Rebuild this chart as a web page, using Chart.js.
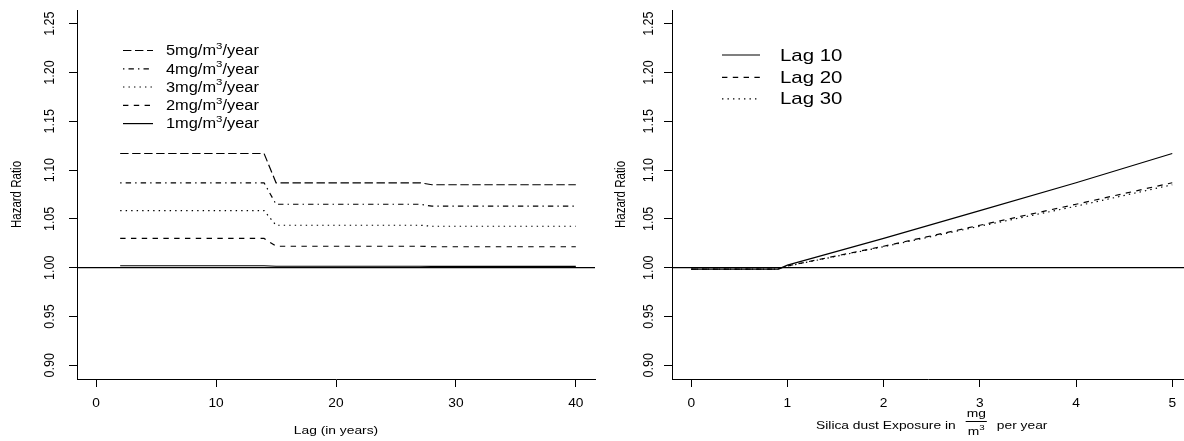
<!DOCTYPE html>
<html><head><meta charset="utf-8">
<script src="https://cdn.jsdelivr.net/npm/chart.js@4.4.1/dist/chart.umd.min.js"></script>
<style>
html,body{margin:0;padding:0;background:#fff;}
#wrap{position:relative;width:1184px;height:441px;overflow:hidden;background:#fff;}
canvas{position:absolute;top:0;}
</style></head><body>
<div id="wrap">
<canvas id="leftChart" width="600" height="441" style="left:0px"></canvas>
<canvas id="rightChart" width="584" height="441" style="left:600px"></canvas>
</div>
<script>
// ---------- data ----------
const lagYears = [2, 14, 15, 27, 28, 40];
const hr5mg = [1.117, 1.117, 1.087, 1.087, 1.085, 1.085];
const hr4mg = [1.087, 1.087, 1.065, 1.065, 1.063, 1.063];
const hr3mg = [1.0585, 1.0585, 1.0435, 1.0435, 1.0425, 1.0425];
const hr2mg = [1.030, 1.030, 1.022, 1.022, 1.0215, 1.0215];
const hr1mg = [1.002, 1.002, 1.0015, 1.0015, 1.0013, 1.0013];
const leftLabels = ['5mg/m³/year', '4mg/m³/year', '3mg/m³/year', '2mg/m³/year', '1mg/m³/year'];

const doseLevels = [0, 0.9, 1, 2, 3, 4, 5];
const hrLag10 = [0.9985, 0.9985, 1.0027, 1.030, 1.0585, 1.087, 1.117];
const hrLag20 = [0.9985, 0.9985, 1.0018, 1.022, 1.0435, 1.065, 1.087];
const hrLag30 = [0.9985, 0.9985, 1.0016, 1.0215, 1.0425, 1.063, 1.085];
const rightLabels = ['Lag 10', 'Lag 20', 'Lag 30'];

const lagTicks = [0, 10, 20, 30, 40];
const doseTicks = [0, 1, 2, 3, 4, 5];
const hrTicks = [0.90, 0.95, 1.00, 1.05, 1.10, 1.15, 1.20, 1.25];
const refHR = 1;

const yTitle = 'Hazard Ratio';
const leftXTitle = 'Lag (in years)';
const rightXTitleParts = ['Silica dust Exposure in', 'mg', 'm³', 'per year'];

// ---------- styles ----------
const FONT = '"Liberation Sans", Arial, Helvetica, sans-serif';
const DASH = {
  solid: [],
  dashed: [5.4, 5.4],
  dotted: [1.4, 4.1],
  dotdash: [1.4, 4.1, 5.4, 4.1],
  longdash: [8.4, 3.6]
};
const leftStyles = [DASH.longdash, DASH.dotdash, DASH.dotted, DASH.dashed, DASH.solid];
const rightStyles = [DASH.solid, DASH.dashed, DASH.dotted];
const LW = 1.2;

const Y_MIN = 0.886, Y_MAX = 1.264;
const LX_MIN = -1.6, LX_MAX = 41.6;
const RX_MIN = -0.2, RX_MAX = 5.122;

function pts(xs, ys) { return xs.map((x, i) => ({x: x, y: ys[i]})); }

function lineDs(data, dash) {
  return {data: data, borderColor: '#000', borderWidth: LW, borderDash: dash,
    pointRadius: 0, fill: false, tension: 0};
}

function axis(min, max, ticks, fit) {
  return {
    type: 'linear', min: min, max: max,
    afterBuildTicks: s => { s.ticks = ticks.map(v => ({value: v})); },
    afterFit: fit,
    ticks: {display: false},
    grid: {display: true, drawOnChartArea: false, drawTicks: true, tickLength: 8, color: '#000', lineWidth: 1},
    border: {display: true, color: '#000', width: 1}
  };
}

function txt(ctx, s, x, y, px, align, sx, rot) {
  ctx.save();
  ctx.translate(x, y);
  if (rot) { ctx.rotate(-Math.PI / 2); ctx.scale(1, sx); }
  else ctx.scale(sx, 1);
  ctx.font = px + 'px ' + FONT;
  ctx.fillStyle = '#000';
  ctx.textAlign = align;
  ctx.textBaseline = 'middle';
  ctx.fillText(s, 0, 0);
  ctx.restore();
}
function width(ctx, s, px, sx) {
  ctx.save(); ctx.font = px + 'px ' + FONT; const w = ctx.measureText(s).width * sx; ctx.restore(); return w;
}
function supText(ctx, s, x, y, px, sx) {
  const parts = s.split('³');
  let cx = x;
  for (let i = 0; i < parts.length; i++) {
    txt(ctx, parts[i], cx, y, px, 'left', sx, false);
    cx += width(ctx, parts[i], px, sx);
    if (i < parts.length - 1) {
      txt(ctx, '3', cx, y - px * 0.38, px * 0.7, 'left', sx, false);
      cx += width(ctx, '3', px * 0.7, sx);
    }
  }
  return cx - x;
}
function supWidth(ctx, s, px, sx) {
  const parts = s.split('³'); let w = 0;
  parts.forEach((p, i) => { w += width(ctx, p, px, sx); if (i < parts.length - 1) w += width(ctx, '3', px * 0.7, sx); });
  return w;
}
function sampleLine(ctx, x1, x2, y, dash) {
  ctx.save();
  ctx.strokeStyle = '#000'; ctx.lineWidth = LW; ctx.setLineDash(dash);
  ctx.beginPath(); ctx.moveTo(x1, y); ctx.lineTo(x2, y); ctx.stroke();
  ctx.restore();
}

const TICK_PX = 12.5, TICK_SX = 1.1, TITLE_PX = 11.5, TITLE_SX = 1.2;

function drawAxesText(chart, yLabelX, yTitleX) {
  const ctx = chart.ctx, xs = chart.scales.x, ys = chart.scales.y, a = chart.chartArea;
  ys.ticks.forEach(t => txt(ctx, t.value.toFixed(2), yLabelX, ys.getPixelForValue(t.value), TICK_PX, 'center', TICK_SX, true));
  xs.ticks.forEach(t => txt(ctx, String(t.value), xs.getPixelForValue(t.value), 404, TICK_PX, 'center', TICK_SX, false));
  txt(ctx, yTitle, yTitleX, (a.top + a.bottom) / 2, TITLE_PX, 'center', TITLE_SX, true);
}

const leftText = {
  id: 'leftText',
  afterDraw(chart) {
    const ctx = chart.ctx, a = chart.chartArea;
    drawAxesText(chart, 50, 17);
    txt(ctx, leftXTitle, (a.left + a.right) / 2, 431, TITLE_PX, 'center', TITLE_SX, false);
    const rows = [50.5, 68.8, 87, 105.3, 123.6];
    leftLabels.forEach((lab, i) => {
      sampleLine(ctx, 123, 153, rows[i], leftStyles[i]);
      supText(ctx, lab, 166, rows[i] + 1, 14, 1.17);
    });
  }
};

const rightText = {
  id: 'rightText',
  afterDraw(chart) {
    const ctx = chart.ctx, xs = chart.scales.x;
    drawAxesText(chart, 49, 21);
    const [main, num, den, tail] = rightXTitleParts;
    const wMain = width(ctx, main, TITLE_PX, TITLE_SX);
    const wTail = width(ctx, tail, TITLE_PX, TITLE_SX);
    const wFrac = Math.max(width(ctx, num, TITLE_PX, TITLE_SX), supWidth(ctx, den, TITLE_PX, TITLE_SX)) + 2;
    const gap = 10;
    const total = wMain + gap + wFrac + gap + wTail;
    const cx = xs.getPixelForValue((RX_MIN + 5.2) / 2);
    let x = cx - total / 2;
    txt(ctx, main, x, 425.5, TITLE_PX, 'left', TITLE_SX, false);
    x += wMain + gap;
    txt(ctx, num, x + wFrac / 2, 413.5, TITLE_PX, 'center', TITLE_SX, false);
    ctx.save(); ctx.strokeStyle = '#000'; ctx.lineWidth = 1;
    ctx.beginPath(); ctx.moveTo(x, 421.5); ctx.lineTo(x + wFrac, 421.5); ctx.stroke(); ctx.restore();
    supText(ctx, den, x + (wFrac - supWidth(ctx, den, TITLE_PX, TITLE_SX)) / 2, 432, TITLE_PX, TITLE_SX);
    x += wFrac + gap;
    txt(ctx, tail, x, 425.5, TITLE_PX, 'left', TITLE_SX, false);
    const rows = [55, 77.3, 98.8];
    rightLabels.forEach((lab, i) => {
      sampleLine(ctx, 122, 160, rows[i], rightStyles[i]);
      txt(ctx, lab, 180, rows[i] + 1, 17, 'left', 1.2, false);
    });
  }
};

const baseOpts = (xMin, xMax, xTicks, yWidth, padRight) => ({
  responsive: false, animation: false, devicePixelRatio: 1,
  layout: {padding: {left: 0, right: padRight, top: 10, bottom: 0}},
  plugins: {legend: {display: false}, tooltip: {enabled: false}},
  scales: {
    x: axis(xMin, xMax, xTicks, s => { s.height = 62; }),
    y: axis(Y_MIN, Y_MAX, hrTicks, s => { s.width = yWidth; })
  }
});

new Chart(document.getElementById('leftChart'), {
  type: 'line',
  data: {datasets: [
    lineDs(pts([LX_MIN, LX_MAX], [refHR, refHR]), DASH.solid),
    lineDs(pts(lagYears, hr5mg), leftStyles[0]),
    lineDs(pts(lagYears, hr4mg), leftStyles[1]),
    lineDs(pts(lagYears, hr3mg), leftStyles[2]),
    lineDs(pts(lagYears, hr2mg), leftStyles[3]),
    lineDs(pts(lagYears, hr1mg), leftStyles[4])
  ]},
  options: baseOpts(LX_MIN, LX_MAX, lagTicks, 77, 5),
  plugins: [leftText]
});

new Chart(document.getElementById('rightChart'), {
  type: 'line',
  data: {datasets: [
    lineDs(pts([RX_MIN, RX_MAX], [refHR, refHR]), DASH.solid),
    lineDs(pts(doseLevels, hrLag10), rightStyles[0]),
    lineDs(pts(doseLevels, hrLag20), rightStyles[1]),
    lineDs(pts(doseLevels, hrLag30), rightStyles[2])
  ]},
  options: baseOpts(RX_MIN, RX_MAX, doseTicks, 72, 0),
  plugins: [rightText]
});
</script>
</body></html>
